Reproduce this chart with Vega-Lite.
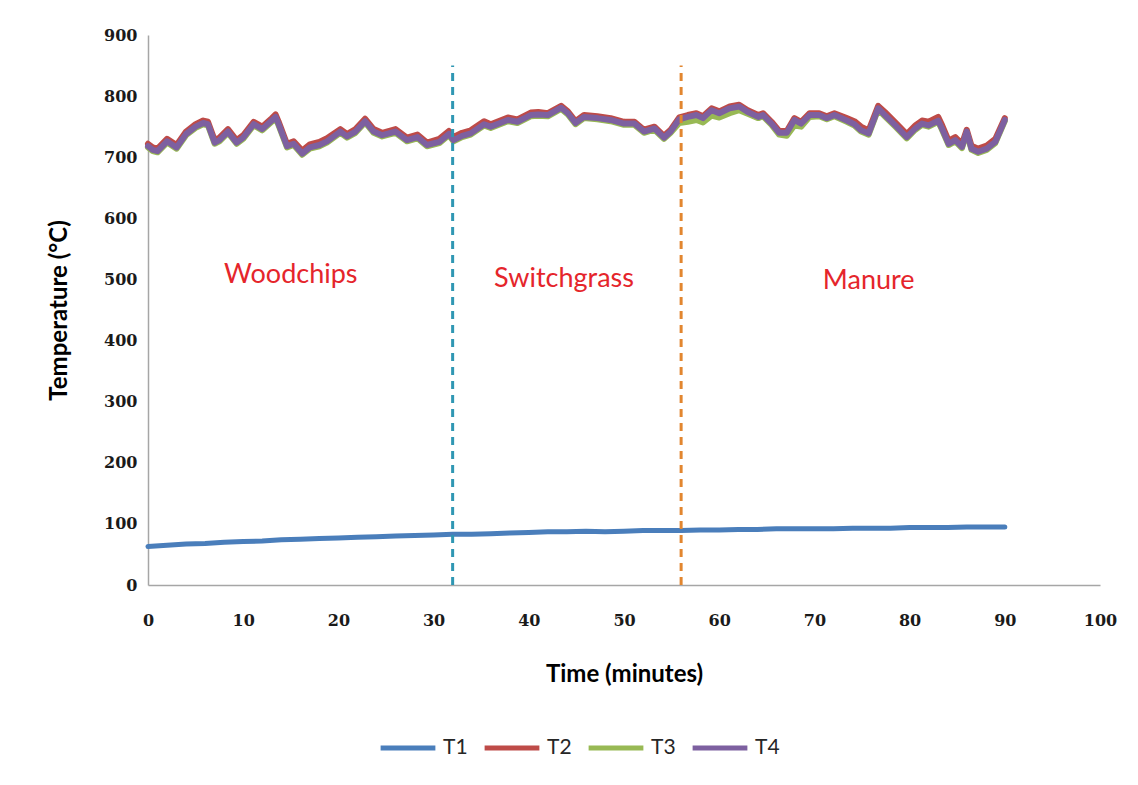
{
  "$schema": "https://vega.github.io/schema/vega-lite/v6.json",
  "width": 952,
  "height": 550,
  "autosize": {"type": "none"},
  "padding": {"left": 148, "top": 35, "right": 38, "bottom": 200},
  "background": "white",
  "config": {
    "view": {"stroke": null},
    "font": "Lato"
  },
  "datasets": {
    "temps": [
      {"t":0,"T2":722,"T3":716,"T4":718},
      {"t":0.5,"T2":716,"T3":710,"T4":712},
      {"t":1,"T2":714,"T3":708,"T4":710},
      {"t":2,"T2":730,"T3":724,"T4":726},
      {"t":3,"T2":720,"T3":714,"T4":716},
      {"t":4,"T2":742,"T3":736,"T4":738},
      {"t":5,"T2":754,"T3":748,"T4":750},
      {"t":5.8,"T2":760,"T3":754,"T4":756},
      {"t":6.3,"T2":758,"T3":752,"T4":754},
      {"t":7,"T2":728,"T3":722,"T4":724},
      {"t":7.5,"T2":732,"T3":726,"T4":728},
      {"t":8.4,"T2":746,"T3":740,"T4":742},
      {"t":9.3,"T2":728,"T3":722,"T4":724},
      {"t":10,"T2":736,"T3":730,"T4":732},
      {"t":11.1,"T2":758,"T3":752,"T4":754},
      {"t":12,"T2":750,"T3":744,"T4":746},
      {"t":13,"T2":764,"T3":758,"T4":760},
      {"t":13.4,"T2":770,"T3":764,"T4":766},
      {"t":13.7,"T2":759,"T3":753,"T4":755},
      {"t":14.6,"T2":722,"T3":716,"T4":718},
      {"t":15.3,"T2":726,"T3":720,"T4":722},
      {"t":16.2,"T2":711,"T3":704,"T4":706},
      {"t":17,"T2":721,"T3":714,"T4":716},
      {"t":18,"T2":725,"T3":718,"T4":720},
      {"t":18.8,"T2":731,"T3":724,"T4":726},
      {"t":20.2,"T2":746,"T3":740,"T4":742},
      {"t":20.9,"T2":738,"T3":732,"T4":734},
      {"t":21.8,"T2":746,"T3":740,"T4":742},
      {"t":22.8,"T2":763,"T3":757,"T4":759},
      {"t":23.7,"T2":746,"T3":740,"T4":742},
      {"t":24.6,"T2":740,"T3":734,"T4":736},
      {"t":26,"T2":746,"T3":740,"T4":742},
      {"t":27.2,"T2":732,"T3":726,"T4":728},
      {"t":28.3,"T2":737,"T3":731,"T4":733},
      {"t":29.3,"T2":724,"T3":718,"T4":720},
      {"t":30.6,"T2":730,"T3":723,"T4":725},
      {"t":31.6,"T2":743,"T3":736,"T4":738},
      {"t":32.1,"T2":733,"T3":726,"T4":728},
      {"t":33,"T2":740,"T3":733,"T4":735},
      {"t":33.9,"T2":744,"T3":737,"T4":739},
      {"t":35.3,"T2":759,"T3":752,"T4":754},
      {"t":36,"T2":754,"T3":748,"T4":750},
      {"t":37,"T2":760,"T3":754,"T4":756},
      {"t":37.8,"T2":765,"T3":759,"T4":761},
      {"t":38.8,"T2":762,"T3":756,"T4":758},
      {"t":40.2,"T2":773,"T3":767,"T4":769},
      {"t":41,"T2":774,"T3":768,"T4":770},
      {"t":42,"T2":772,"T3":767,"T4":769},
      {"t":43.4,"T2":784,"T3":779,"T4":781},
      {"t":44.1,"T2":775,"T3":770,"T4":772},
      {"t":44.9,"T2":759,"T3":754,"T4":756},
      {"t":45.8,"T2":769,"T3":764,"T4":766},
      {"t":47.2,"T2":767,"T3":762,"T4":764},
      {"t":48.6,"T2":764,"T3":759,"T4":761},
      {"t":50,"T2":758,"T3":753,"T4":755},
      {"t":51.1,"T2":758,"T3":753,"T4":755},
      {"t":52.1,"T2":745,"T3":740,"T4":742},
      {"t":53.2,"T2":750,"T3":745,"T4":747},
      {"t":54.2,"T2":735,"T3":730,"T4":732},
      {"t":54.9,"T2":745,"T3":740,"T4":742},
      {"t":55.8,"T2":765,"T3":756,"T4":762},
      {"t":56.7,"T2":769,"T3":758,"T4":766},
      {"t":57.6,"T2":772,"T3":761,"T4":769},
      {"t":58.3,"T2":767,"T3":757,"T4":764},
      {"t":59.2,"T2":780,"T3":768,"T4":777},
      {"t":60,"T2":775,"T3":765,"T4":772},
      {"t":61.1,"T2":783,"T3":772,"T4":780},
      {"t":62.1,"T2":786,"T3":777,"T4":783},
      {"t":63,"T2":777,"T3":771,"T4":774},
      {"t":64.1,"T2":769,"T3":764,"T4":766},
      {"t":64.6,"T2":772,"T3":767,"T4":769},
      {"t":65.5,"T2":758,"T3":753,"T4":755},
      {"t":66.3,"T2":743,"T3":737,"T4":740},
      {"t":67.1,"T2":743,"T3":735,"T4":740},
      {"t":67.9,"T2":764,"T3":752,"T4":761},
      {"t":68.6,"T2":758,"T3":750,"T4":755},
      {"t":69.5,"T2":772,"T3":766,"T4":769},
      {"t":70.5,"T2":772,"T3":767,"T4":769},
      {"t":71.3,"T2":767,"T3":762,"T4":764},
      {"t":72.1,"T2":772,"T3":767,"T4":769},
      {"t":73.4,"T2":764,"T3":758,"T4":760},
      {"t":74.2,"T2":759,"T3":752,"T4":754},
      {"t":74.9,"T2":750,"T3":742,"T4":744},
      {"t":75.7,"T2":744,"T3":737,"T4":739},
      {"t":76.7,"T2":784,"T3":778,"T4":780},
      {"t":77.4,"T2":774,"T3":767,"T4":769},
      {"t":78.5,"T2":757,"T3":750,"T4":752},
      {"t":79.7,"T2":738,"T3":731,"T4":733},
      {"t":80.6,"T2":752,"T3":745,"T4":747},
      {"t":81.3,"T2":760,"T3":753,"T4":755},
      {"t":82,"T2":758,"T3":750,"T4":752},
      {"t":83,"T2":766,"T3":758,"T4":760},
      {"t":83.4,"T2":753,"T3":745,"T4":747},
      {"t":84.1,"T2":727,"T3":720,"T4":722},
      {"t":84.8,"T2":733,"T3":726,"T4":728},
      {"t":85.5,"T2":722,"T3":715,"T4":717},
      {"t":86,"T2":745,"T3":740,"T4":742},
      {"t":86.5,"T2":719,"T3":712,"T4":714},
      {"t":87.2,"T2":714,"T3":707,"T4":709},
      {"t":88.1,"T2":719,"T3":712,"T4":714},
      {"t":89,"T2":730,"T3":723,"T4":725},
      {"t":90,"T2":764,"T3":759,"T4":761}
    ],
    "t1": [
      {"t":0,"T1":63},{"t":2,"T1":65},{"t":4,"T1":67},{"t":6,"T1":68},{"t":8,"T1":70},
      {"t":10,"T1":71},{"t":12,"T1":72},{"t":14,"T1":74},{"t":16,"T1":75},{"t":18,"T1":76},
      {"t":20,"T1":77},{"t":22,"T1":78},{"t":24,"T1":79},{"t":26,"T1":80},{"t":28,"T1":81},
      {"t":30,"T1":82},{"t":32,"T1":83},{"t":34,"T1":83},{"t":36,"T1":84},{"t":38,"T1":85},
      {"t":40,"T1":86},{"t":42,"T1":87},{"t":44,"T1":87},{"t":46,"T1":88},{"t":48,"T1":87},
      {"t":50,"T1":88},{"t":52,"T1":89},{"t":54,"T1":89},{"t":56,"T1":89},{"t":58,"T1":90},
      {"t":60,"T1":90},{"t":62,"T1":91},{"t":64,"T1":91},{"t":66,"T1":92},{"t":68,"T1":92},
      {"t":70,"T1":92},{"t":72,"T1":92},{"t":74,"T1":93},{"t":76,"T1":93},{"t":78,"T1":93},
      {"t":80,"T1":94},{"t":82,"T1":94},{"t":84,"T1":94},{"t":86,"T1":95},{"t":88,"T1":95},
      {"t":90,"T1":95}
    ],
    "labels": [
      {"t":15.0,"v":508,"name":"Woodchips"},
      {"t":43.7,"v":501,"name":"Switchgrass"},
      {"t":75.7,"v":497,"name":"Manure"}
    ]
  },
  "layer": [
    {
      "data": {"name": "t1"},
      "transform": [{"fold": ["T1"], "as": ["series", "value"]}],
      "mark": {"type": "line", "strokeWidth": 5, "strokeCap": "round", "strokeJoin": "round"},
      "encoding": {
        "x": {
          "field": "t", "type": "quantitative",
          "scale": {"domain": [0, 100], "nice": false},
          "axis": {
            "title": "Time (minutes)",
            "values": [0,10,20,30,40,50,60,70,80,90,100],
            "grid": false, "ticks": false, "labelFlush": false,
            "domainColor": "#a6a6a6", "domainWidth": 1.5,
            "labelFont": "DejaVu Serif", "labelFontWeight": "bold", "labelFontSize": 16, "labelColor": "#1a1a1a",
            "labelPadding": 27,
            "titleFont": "Lato", "titleFontWeight": "bold", "titleFontSize": 24, "titleColor": "#000000",
            "titlePadding": 34
          }
        },
        "y": {
          "field": "value", "type": "quantitative",
          "scale": {"domain": [0, 900], "nice": false},
          "axis": {
            "title": "Temperature (°C)",
            "values": [0,100,200,300,400,500,600,700,800,900],
            "grid": false, "ticks": false, "labelFlush": false,
            "domainColor": "#a6a6a6", "domainWidth": 1.5,
            "labelFont": "DejaVu Serif", "labelFontWeight": "bold", "labelFontSize": 16, "labelColor": "#1a1a1a",
            "labelPadding": 11,
            "titleFont": "Lato", "titleFontWeight": "bold", "titleFontSize": 24, "titleColor": "#000000",
            "titlePadding": 32
          }
        },
        "color": {
          "field": "series", "type": "nominal",
          "scale": {"domain": ["T1","T2","T3","T4"], "range": ["#4a7ebb","#be4b48","#98b954","#7d60a0"]},
          "legend": {
            "title": null,
            "orient": "none",
            "direction": "horizontal",
            "legendX": 230,
            "legendY": 683,
            "symbolType": "stroke",
            "symbolSize": 3000,
            "symbolStrokeWidth": 5,
            "labelFont": "Lato",
            "labelFontSize": 21,
            "labelColor": "#262626",
            "labelOffset": 5,
            "columnPadding": 6
          }
        }
      }
    },
    {
      "data": {"name": "temps"},
      "transform": [{"fold": ["T2"], "as": ["series", "value"]}],
      "mark": {"type": "line", "strokeWidth": 6, "strokeCap": "round", "strokeJoin": "round"},
      "encoding": {
        "x": {"field": "t", "type": "quantitative"},
        "y": {"field": "value", "type": "quantitative"},
        "color": {"field": "series", "type": "nominal"}
      }
    },
    {
      "data": {"name": "temps"},
      "transform": [{"fold": ["T3"], "as": ["series", "value"]}],
      "mark": {"type": "line", "strokeWidth": 6, "strokeCap": "round", "strokeJoin": "round"},
      "encoding": {
        "x": {"field": "t", "type": "quantitative"},
        "y": {"field": "value", "type": "quantitative"},
        "color": {"field": "series", "type": "nominal"}
      }
    },
    {
      "data": {"name": "temps"},
      "transform": [{"fold": ["T4"], "as": ["series", "value"]}],
      "mark": {"type": "line", "strokeWidth": 6, "strokeCap": "round", "strokeJoin": "round"},
      "encoding": {
        "x": {"field": "t", "type": "quantitative"},
        "y": {"field": "value", "type": "quantitative"},
        "color": {"field": "series", "type": "nominal"}
      }
    },
    {
      "data": {"values": [{"t": 32, "y0": 0, "y1": 850}]},
      "mark": {"type": "rule", "color": "#2f97b3", "strokeWidth": 3, "strokeDash": [8, 6]},
      "encoding": {
        "x": {"field": "t", "type": "quantitative"},
        "y": {"field": "y0", "type": "quantitative"},
        "y2": {"field": "y1"}
      }
    },
    {
      "data": {"values": [{"t": 56, "y0": 0, "y1": 850}]},
      "mark": {"type": "rule", "color": "#e2862f", "strokeWidth": 3, "strokeDash": [8, 6]},
      "encoding": {
        "x": {"field": "t", "type": "quantitative"},
        "y": {"field": "y0", "type": "quantitative"},
        "y2": {"field": "y1"}
      }
    },
    {
      "data": {"name": "labels"},
      "mark": {"type": "text", "font": "Lato", "fontSize": 27, "color": "#e5252b", "align": "center", "baseline": "middle"},
      "encoding": {
        "x": {"field": "t", "type": "quantitative"},
        "y": {"field": "v", "type": "quantitative"},
        "text": {"field": "name"}
      }
    }
  ]
}
